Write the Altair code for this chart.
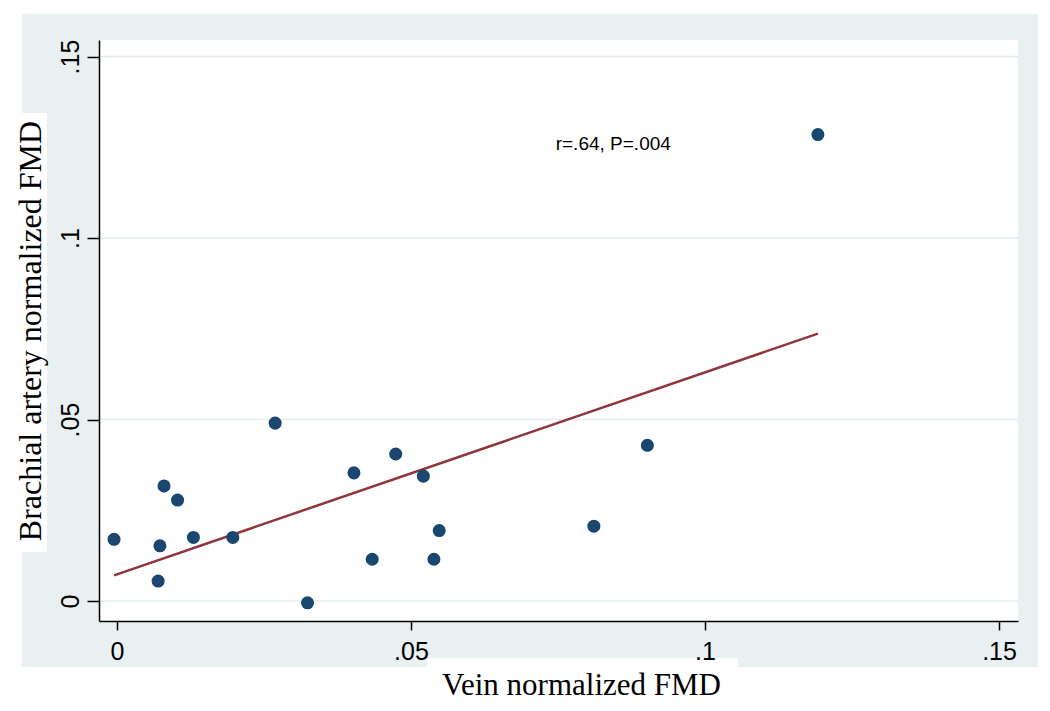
import altair as alt
import pandas as pd

# ---- data ----
vein_fmd = [-0.0005, 0.0080, 0.0103, 0.0073, 0.0070, 0.0130, 0.0197, 0.0269, 0.0324,
            0.0403, 0.0474, 0.0521, 0.0434, 0.0548, 0.0539, 0.0811, 0.0902, 0.1192]
brachial_fmd = [0.0170, 0.0317, 0.0278, 0.0152, 0.0055, 0.0175, 0.0175, 0.0490, -0.0005,
                0.0353, 0.0405, 0.0344, 0.0115, 0.0194, 0.0115, 0.0206, 0.0429, 0.1285]
tick_values = [0, 0.05, 0.1, 0.15]
annotation_text = ["r=.64, P=.004"]
annotation_x = [0.0844]
annotation_y = [0.1259]

BG = "#E8F0F2"
GRID = "#E3ECEF"
NAVY = "#1A476F"
MAROON = "#90353B"

W, H = 919, 581

points = pd.DataFrame({"vein": vein_fmd, "brachial": brachial_fmd})
grid_df = pd.DataFrame({"tick": tick_values})
ann_df = pd.DataFrame({"vein": annotation_x, "brachial": annotation_y, "label": annotation_text})

x_scale = alt.Scale(domain=[-0.00306, 0.15323], nice=False, zero=False)
y_scale = alt.Scale(domain=[-0.00551, 0.15455], nice=False, zero=False)

label_expr = "datum.value == 0 ? '0' : substring(format(datum.value, '~g'), 1)"

x_axis = alt.Axis(
    values=tick_values, labelExpr=label_expr, grid=False, zindex=1,
    title="Vein normalized FMD", titleFont="Liberation Serif", titleFontSize=31,
    titleFontWeight="normal", titleColor="black", titleX=482, titleY=73,
    titleAlign="center", titleBaseline="alphabetic",
    labelFont="Liberation Sans", labelFontSize=25, labelColor="black",
    labelBaseline="alphabetic", labelPadding=29, labelFlush=False, labelOverlap=False,
    tickSize=9, tickColor="black", tickWidth=1.5,
    domainColor="black", domainWidth=1.5,
)
y_axis = alt.Axis(
    values=tick_values, labelExpr=label_expr, grid=False, zindex=1,
    title="Brachial artery normalized FMD", titleFont="Liberation Serif", titleFontSize=32,
    titleFontWeight="normal", titleColor="black", titleAngle=270, titleX=-59, titleY=290.5,
    titleAlign="center", titleBaseline="alphabetic",
    labelFont="Liberation Sans", labelFontSize=25, labelColor="black",
    labelAngle=270, labelAlign="center", labelBaseline="alphabetic", labelPadding=9,
    labelFlush=False, labelOverlap=False,
    tickSize=12, tickColor="black", tickWidth=1.5,
    domainColor="black", domainWidth=1.5,
)

def deco(color, x0, x1, y0, y1):
    return alt.Chart(alt.Data(values=[{}])).mark_rect(color=color).encode(
        x=alt.value(x0), x2=alt.value(x1), y=alt.value(y0), y2=alt.value(y1)
    )

band = deco(BG, -77, 945, -26, 627)
plot_bg = deco("white", 0, W, 0, H)
ytitle_box = deco("white", -77, -52, 73, 512)
xtitle_box = deco("white", 328, 639, 618, 627)

grid = alt.Chart(grid_df).mark_rule(color=GRID, strokeWidth=1.5).encode(
    y=alt.Y("tick:Q", scale=y_scale, axis=y_axis),
    x=alt.value(0), x2=alt.value(W),
)

fit = alt.Chart(points).transform_regression("vein", "brachial").mark_line(
    color=MAROON, strokeWidth=2.5
).encode(
    x=alt.X("vein:Q", scale=x_scale, axis=x_axis),
    y=alt.Y("brachial:Q", scale=y_scale, axis=y_axis),
)

dots = alt.Chart(points).mark_circle(size=170, color=NAVY, opacity=1).encode(
    x=alt.X("vein:Q", scale=x_scale, axis=x_axis),
    y=alt.Y("brachial:Q", scale=y_scale, axis=y_axis),
)

ann = alt.Chart(ann_df).mark_text(
    font="Liberation Sans", fontSize=19, align="center", baseline="middle", color="black"
).encode(
    x=alt.X("vein:Q", scale=x_scale, axis=x_axis),
    y=alt.Y("brachial:Q", scale=y_scale, axis=y_axis),
    text="label:N",
)

chart = alt.layer(band, plot_bg, ytitle_box, xtitle_box, grid, fit, dots, ann).properties(
    width=W, height=H,
    padding={"left": 91, "top": 32, "right": 20, "bottom": 80},
    autosize=alt.AutoSizeParams(type="none"),
).configure(background="white").configure_view(strokeWidth=0)

chart.save("out.html", embed_options={"renderer": "svg", "actions": False})
